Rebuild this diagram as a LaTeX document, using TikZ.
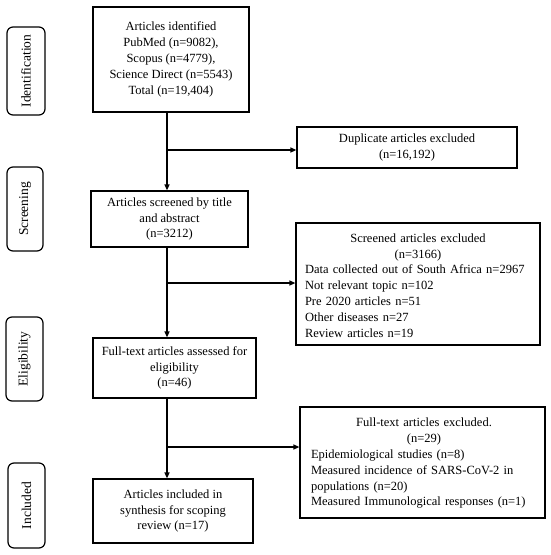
\documentclass[tikz,border=0pt]{standalone}
\usepackage{fontspec}
\setmainfont{Liberation Serif}
\usetikzlibrary{arrows.meta}
\begin{document}
\begin{tikzpicture}[x=1pt,y=-1pt,
  every node/.style={font=\fontsize{12.5}{15.8}\selectfont, inner sep=0pt},
  box/.style={draw, line width=1.2pt, align=center},
  stage/.style={draw, line width=1.2pt, rounded corners=6pt, rotate=90, font=\fontsize{13.5}{16}\selectfont},
  conn/.style={line width=1.2pt},
  arr/.style={conn, -{Triangle[length=6pt,width=5pt]}}
]
\useasboundingbox (0,0) rectangle (550,555);
% stage labels
\node[stage, minimum width=88pt, minimum height=38pt] (sid) at (26,71) {Identification};
\node[stage, minimum width=84pt, minimum height=36pt] (ssc) at (25,209) {Screening};
\node[stage, minimum width=84pt, minimum height=37pt] (sel) at (24.5,359) {Eligibility};
\node[stage, minimum width=85pt, minimum height=37pt] (sin) at (26.5,505.5) {Included};
% main boxes
\node[box, minimum width=156pt, minimum height=105pt] (b1) at (171,59.5) {Articles identified\\PubMed (n=9082),\\Scopus (n=4779),\\Science Direct (n=5543)\\Total (n=19,404)};
\node[box, minimum width=220pt, minimum height=41pt] (dup) at (407,147.5) {Duplicate articles excluded\\(n=16,192)};
\node[box, minimum width=157pt, minimum height=56pt] (b2) at (169.5,219) {Articles screened by title\\and abstract\\(n=3212)};
\node[box, minimum width=244pt, minimum height=122pt] (sx) at (418,284) {};
\node[text width=226pt, align=left] (sxt) at (418,285.5) {\centering Screened articles excluded\\(n=3166)\par\raggedright Data collected out of South Africa n=2967\\Not relevant topic n=102\\Pre 2020 articles n=51\\Other diseases n=27\\Review articles n=19};
\node[box, minimum width=163pt, minimum height=60pt] (b3) at (174.5,368) {Full-text articles assessed for\\eligibility\\(n=46)};
\node[box, minimum width=245pt, minimum height=111pt] (fx) at (422.5,462.5) {};
\node[text width=226pt, align=left] (fxt) at (424,463.5) {\centering Full-text articles excluded.\\(n=29)\par\raggedright Epidemiological studies (n=8)\\Measured incidence of SARS-CoV-2 in\\populations (n=20)\\Measured Immunological responses (n=1)};
\node[box, minimum width=160pt, minimum height=64pt] (b4) at (173,511) {Articles included in\\synthesis for scoping\\review (n=17)};
% spine coordinates
\coordinate (t1) at (167,112);
\coordinate (j1) at (167,150);
\coordinate (t2) at (167,247);
\coordinate (j2) at (167,283);
\coordinate (t3) at (167,398);
\coordinate (j3) at (167,447);
% connectors
\draw[arr] (t1) -- (t1 |- b2.north);
\draw[arr] (j1) -- (j1 -| dup.west);
\draw[arr] (t2) -- (t2 |- b3.north);
\draw[arr] (j2) -- (j2 -| sx.west);
\draw[arr] (t3) -- (t3 |- b4.north);
\draw[arr] (j3) -- (j3 -| fx.west);
\end{tikzpicture}
\end{document}
